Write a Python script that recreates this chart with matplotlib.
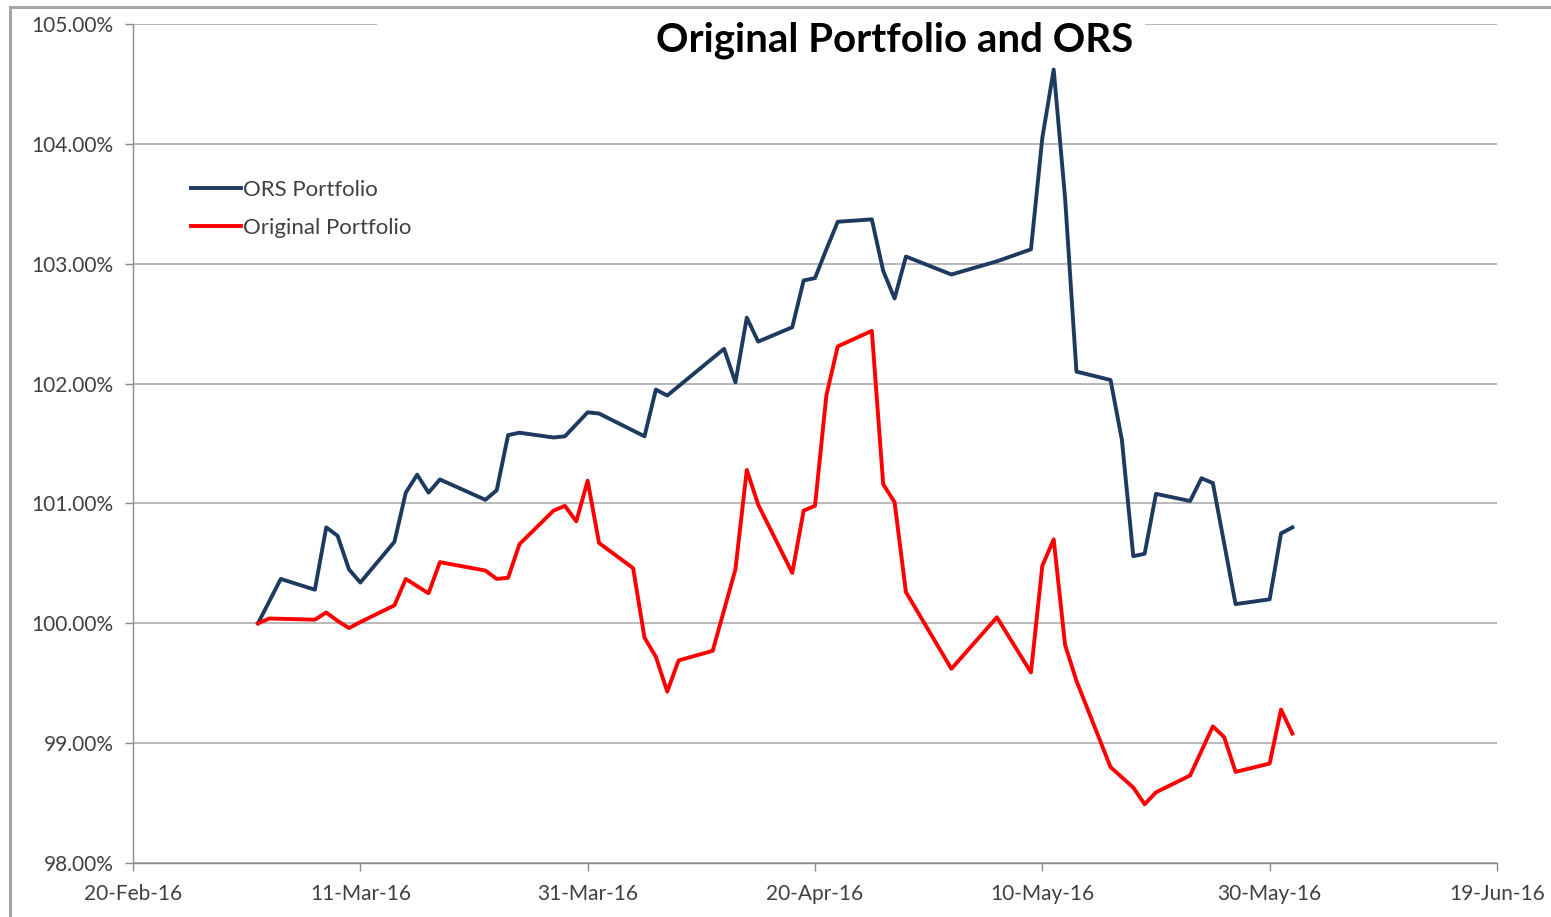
import numpy as np
import pandas as pd
import matplotlib
matplotlib.use("Agg")
import matplotlib.pyplot as plt
import matplotlib.dates as mdates
from matplotlib.patches import Rectangle
from matplotlib.ticker import FuncFormatter

plt.rcParams['font.family'] = ['Lato', 'DejaVu Sans']

# ORS portfolio (value in % of start)
ors_dates = ["2016-03-02", "2016-03-04", "2016-03-07", "2016-03-08", "2016-03-09",
             "2016-03-10", "2016-03-11", "2016-03-14", "2016-03-15", "2016-03-16",
             "2016-03-17", "2016-03-18", "2016-03-22", "2016-03-23", "2016-03-24",
             "2016-03-25", "2016-03-28", "2016-03-29", "2016-03-31", "2016-04-01",
             "2016-04-05", "2016-04-06", "2016-04-07", "2016-04-12", "2016-04-13",
             "2016-04-14", "2016-04-15", "2016-04-18", "2016-04-19", "2016-04-20",
             "2016-04-21", "2016-04-22", "2016-04-25", "2016-04-26", "2016-04-27",
             "2016-04-28", "2016-05-02", "2016-05-06", "2016-05-09", "2016-05-10",
             "2016-05-11", "2016-05-12", "2016-05-13", "2016-05-16", "2016-05-17",
             "2016-05-18", "2016-05-19", "2016-05-20", "2016-05-23", "2016-05-24",
             "2016-05-25", "2016-05-27", "2016-05-30", "2016-05-31", "2016-06-01"]
ors_values = [100.00, 100.37, 100.28, 100.80, 100.73,
              100.45, 100.34, 100.68, 101.09, 101.24,
              101.09, 101.20, 101.03, 101.11, 101.57,
              101.59, 101.55, 101.56, 101.76, 101.75,
              101.56, 101.95, 101.90, 102.29, 102.01,
              102.55, 102.35, 102.47, 102.86, 102.88,
              103.12, 103.35, 103.37, 102.94, 102.71,
              103.06, 102.91, 103.02, 103.12, 104.05,
              104.62, 103.55, 102.10, 102.03, 101.53,
              100.56, 100.58, 101.08, 101.02, 101.21,
              101.17, 100.16, 100.20, 100.75, 100.80]

# Original portfolio
orig_dates = ["2016-03-02", "2016-03-03", "2016-03-07", "2016-03-08", "2016-03-09",
              "2016-03-10", "2016-03-11", "2016-03-14", "2016-03-15", "2016-03-17",
              "2016-03-18", "2016-03-22", "2016-03-23", "2016-03-24", "2016-03-25",
              "2016-03-28", "2016-03-29", "2016-03-30", "2016-03-31", "2016-04-01",
              "2016-04-04", "2016-04-05", "2016-04-06", "2016-04-07", "2016-04-08",
              "2016-04-11", "2016-04-13", "2016-04-14", "2016-04-15", "2016-04-18",
              "2016-04-19", "2016-04-20", "2016-04-21", "2016-04-22", "2016-04-25",
              "2016-04-26", "2016-04-27", "2016-04-28", "2016-05-02", "2016-05-06",
              "2016-05-09", "2016-05-10", "2016-05-11", "2016-05-12", "2016-05-13",
              "2016-05-16", "2016-05-18", "2016-05-19", "2016-05-20", "2016-05-23",
              "2016-05-25", "2016-05-26", "2016-05-27", "2016-05-30", "2016-05-31",
              "2016-06-01"]
orig_values = [100.00, 100.04, 100.03, 100.09, 100.02,
               99.96, 100.01, 100.15, 100.37, 100.25,
               100.51, 100.44, 100.37, 100.38, 100.66,
               100.94, 100.98, 100.85, 101.19, 100.67,
               100.46, 99.88, 99.72, 99.43, 99.69,
               99.77, 100.45, 101.28, 100.99, 100.42,
               100.94, 100.98, 101.90, 102.31, 102.44,
               101.16, 101.01, 100.26, 99.62, 100.05,
               99.59, 100.48, 100.70, 99.82, 99.52,
               98.80, 98.63, 98.49, 98.59, 98.73,
               99.14, 99.05, 98.76, 98.83, 99.28,
               99.08]

y_ticks = [98, 99, 100, 101, 102, 103, 104, 105]
x_start, x_end = "2016-02-20", "2016-06-19"

fig = plt.figure(figsize=(15.51, 9.17), dpi=100)
ax = fig.add_axes([133 / 1551, 1 - 863 / 917, 1364 / 1551, 839 / 917])

# outer chart frame
fig.patches.append(Rectangle((10 / 1551, -0.05), 1.1, 1 - 7 / 917 + 0.05,
                             transform=fig.transFigure, fill=False,
                             edgecolor='#a6a6a6', lw=2.2))

ax.plot(pd.to_datetime(ors_dates), ors_values, color='#1f3a60', lw=2.8,
        label='ORS Portfolio', zorder=3)
ax.plot(pd.to_datetime(orig_dates), orig_values, color='#ff0000', lw=2.8,
        label='Original Portfolio', zorder=3)

ax.set_xlim(pd.Timestamp(x_start), pd.Timestamp(x_end))
ax.set_ylim(y_ticks[0], y_ticks[-1])
ax.set_yticks(y_ticks)
ax.yaxis.set_major_formatter(FuncFormatter(lambda v, p: f"{v:.2f}%"))
ax.set_xticks(pd.date_range(x_start, x_end, freq='20D'))
ax.xaxis.set_major_formatter(mdates.DateFormatter('%d-%b-%y'))

ax.grid(axis='y', color='#b3b3b3', lw=1.3)
ax.set_axisbelow(True)
for side in ['top', 'right']:
    ax.spines[side].set_visible(False)
for side in ['left', 'bottom']:
    ax.spines[side].set_color('#8c8c8c')
    ax.spines[side].set_linewidth(1.0)
ax.tick_params(axis='both', colors='#8c8c8c', labelcolor='#404040',
               labelsize=15, length=6, width=1.0)
ax.tick_params(axis='y', pad=8)
ax.tick_params(axis='x', pad=9)

# white box behind the title that hides the top gridline
ax.add_patch(Rectangle((0.179, 0.955), 0.563, 0.07, transform=ax.transAxes,
                       facecolor='white', edgecolor='none', zorder=1.5,
                       clip_on=False))
ax.text(0.5587, 0.981, 'Original Portfolio and ORS', transform=ax.transAxes,
        ha='center', va='center', fontsize=29, fontweight='bold',
        color='black', zorder=4)

leg = ax.legend(loc='upper left', bbox_to_anchor=(0.028, 0.838), frameon=False,
                fontsize=16, handlelength=2.25, handletextpad=0.1,
                labelspacing=0.82, labelcolor='#404040')

fig.savefig('out.png', dpi=100, facecolor='white')
